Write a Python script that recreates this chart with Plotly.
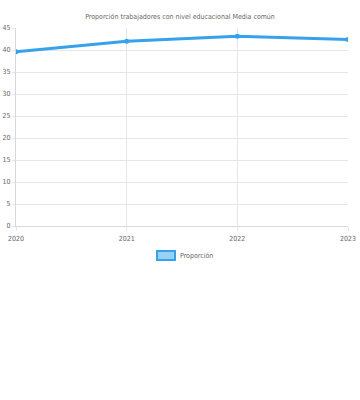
import plotly.graph_objects as go

years = [2020, 2021, 2022, 2023]
values = [39.6, 42.0, 43.1, 42.4]
series_name = "Proporción"
title = "Proporción trabajadores con nivel educacional Media común"
y_ticks = [0, 5, 10, 15, 20, 25, 30, 35, 40, 45]

FONT = "DejaVu Sans Condensed, Liberation Sans Narrow, sans-serif"
BLUE = "#36A2EB"
FS = 7

fig = go.Figure()
fig.add_trace(go.Scatter(
    x=years, y=values, mode="lines+markers", name=series_name,
    line=dict(color=BLUE, width=3),
    marker=dict(color=BLUE, size=5),
    showlegend=False,
))

L, R, T, B = 16, 348, 28, 226
W, H = R - L, B - T
def px(x): return (x - L) / W
def py(y): return (B - y) / H

fig.update_layout(
    width=360, height=400,
    margin=dict(l=L, r=360 - R, t=T, b=400 - B),
    paper_bgcolor="white", plot_bgcolor="white",
    font=dict(family=FONT, size=FS, color="#666"),
    title=dict(text=title, x=0.5, xanchor="center", y=1 - 16.5 / 400, yanchor="middle",
               font=dict(family=FONT, size=FS, color="#666")),
    xaxis=dict(range=[2020, 2023], tickvals=years, ticktext=[str(y) for y in years],
               automargin=False,
               showgrid=True, gridcolor="#e6e6e6", gridwidth=1,
               showline=True, linecolor="#d9d9d9", zeroline=False,
               ticks="outside", ticklen=4, tickcolor="#e6e6e6", ticklabelstandoff=2,
               tickfont=dict(family=FONT, size=FS, color="#666")),
    yaxis=dict(range=[0, 45], tickvals=y_ticks, automargin=False,
               showgrid=True, gridcolor="#e6e6e6", gridwidth=1,
               showline=True, linecolor="#d9d9d9", zeroline=False,
               ticks="outside", ticklen=3, tickcolor="#e6e6e6", ticklabelstandoff=0,
               tickfont=dict(family=FONT, size=FS, color="#666")),
    shapes=[dict(type="rect", xref="paper", yref="paper",
                 x0=px(157), x1=px(175), y0=py(260), y1=py(251),
                 fillcolor="rgba(54,162,235,0.5)", line=dict(color=BLUE, width=2))],
    annotations=[dict(text=series_name, xref="paper", yref="paper",
                      x=px(178), y=py(255.5), xanchor="left", yanchor="middle",
                      showarrow=False, font=dict(family=FONT, size=FS, color="#666"))],
)

fig.write_html("out.html")
